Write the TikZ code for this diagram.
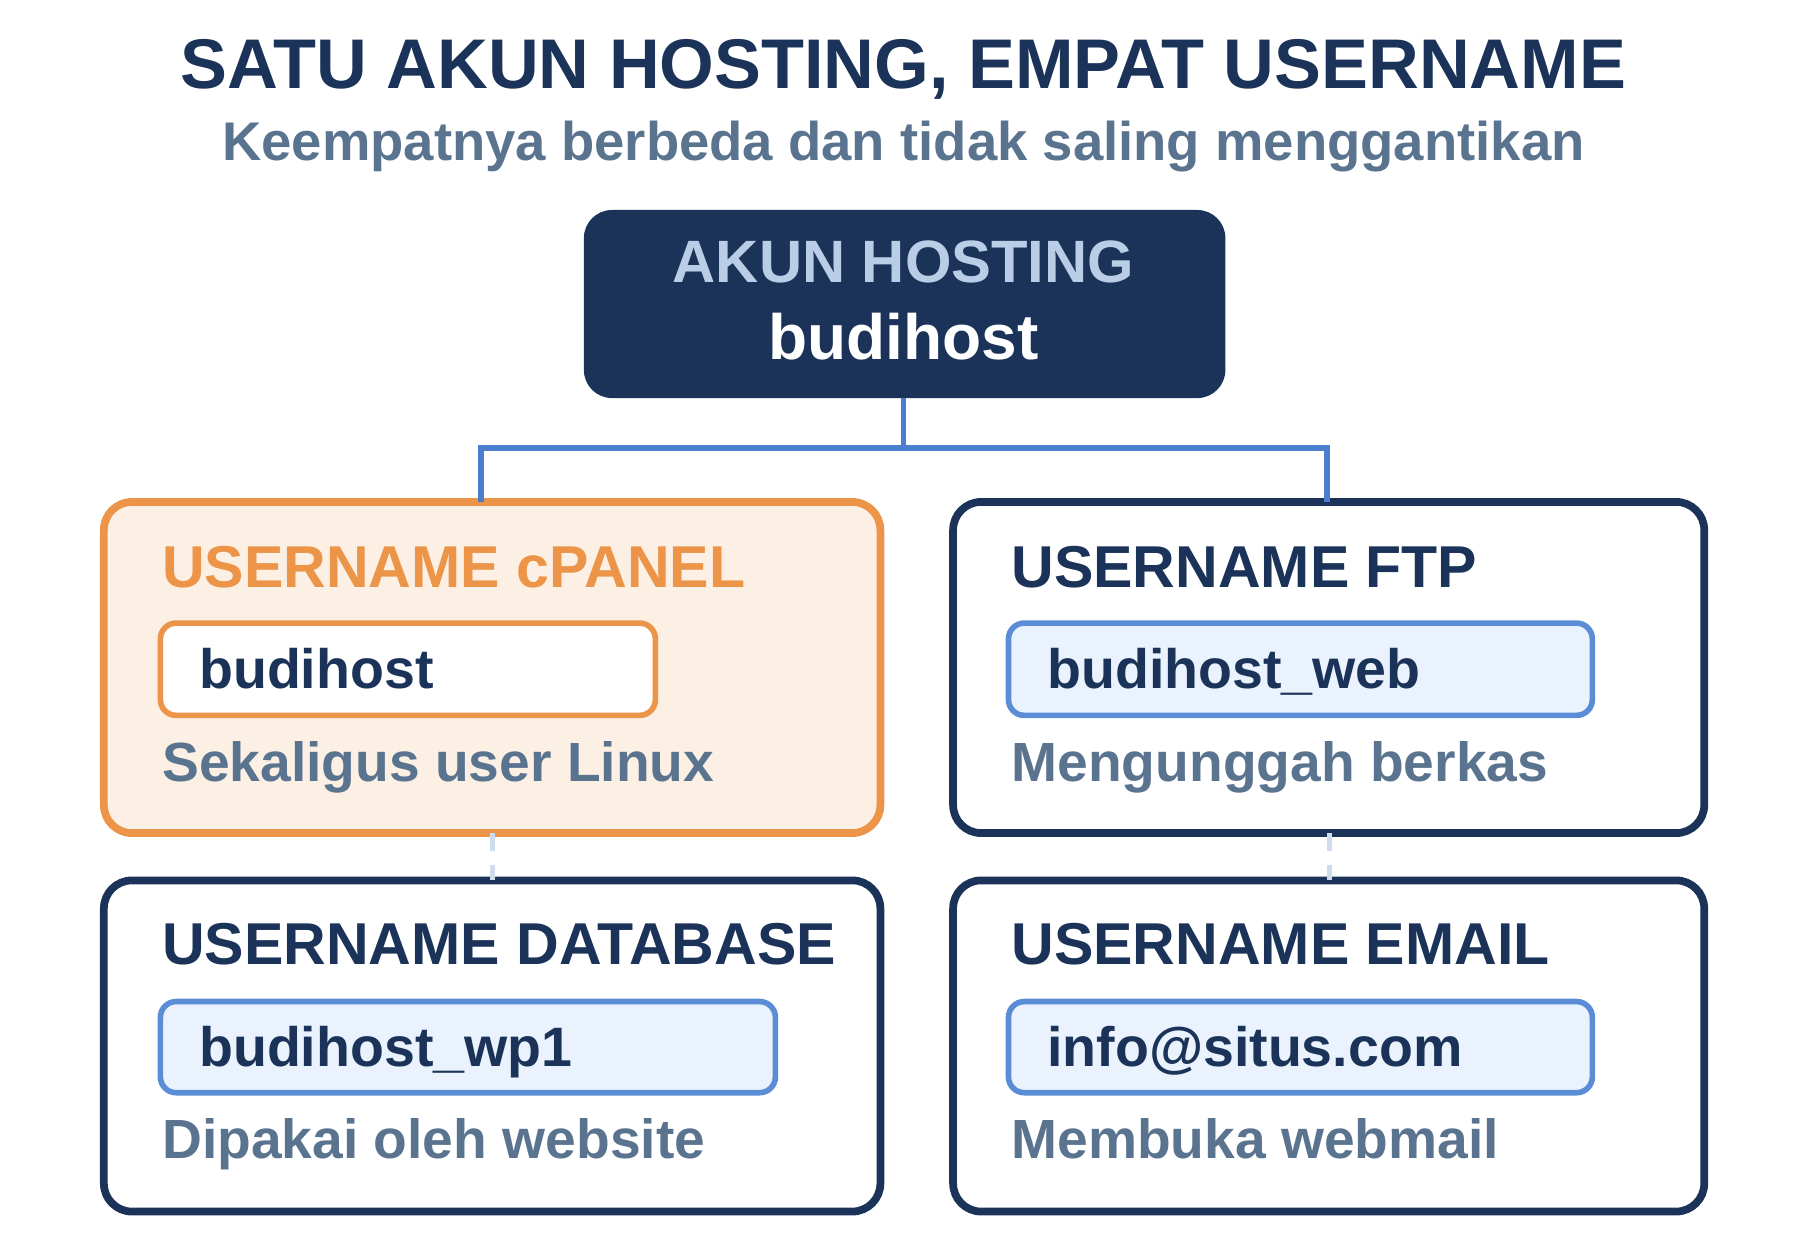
\documentclass[tikz,border=0pt]{standalone}
\usepackage{fontspec}
\setmainfont{Liberation Sans}
\usetikzlibrary{positioning}
\definecolor{navy}{HTML}{1B3358}
\definecolor{slate}{HTML}{5A7490}
\definecolor{skyline}{HTML}{4A7FD0}
\definecolor{paleblue}{HTML}{B9CDE6}
\definecolor{orng}{HTML}{EC9447}
\definecolor{orngfill}{HTML}{FCEFE4}
\definecolor{boxblue}{HTML}{5B8DD6}
\definecolor{boxfill}{HTML}{EAF3FD}
\begin{document}
\begin{tikzpicture}[x=0.011538cm, y=-0.011538cm]
        % ================= styles =================
        \tikzset{
            % outer card
            card/.style={draw=navy, line width=2.2pt, fill=white, rounded corners=8pt},
            % inner value field
            field/.style={draw=boxblue, line width=1.6pt, fill=boxfill, rounded corners=4.5pt},
            % card heading
            head/.style={anchor=base west, inner sep=0pt, text=navy, font=\fontsize{16.8}{20}\selectfont\bfseries},
            % value inside field
            val/.style={anchor=base west, inner sep=0pt, text=navy, font=\fontsize{15.8}{20}\selectfont\bfseries},
            % short description
            desc/.style={anchor=base west, inner sep=0pt, text=slate, font=\fontsize{15.7}{20}\selectfont\bfseries},
            % tree connector
            link/.style={draw=skyline, line width=1.6pt},
            % faint dashed link between rows
            faint/.style={draw=paleblue!70, line width=1.4pt, dash pattern=on 5pt off 4pt}
        }
        \useasboundingbox (0,0) rectangle (1560,1092);

        % ================= title =================
        \node[text=navy, font=\fontsize{20}{24}\selectfont\bfseries] (title) at (783,60) {SATU AKUN HOSTING, EMPAT USERNAME};
        \node[text=slate, font=\fontsize{15.5}{18}\selectfont\bfseries] (sub) at (783,127) {Keempatnya berbeda dan tidak saling menggantikan};

        % ================= root =================
        \fill[navy, rounded corners=8pt] (506,182) rectangle (1062,345);
        \coordinate (root) at (783,345);
        \node[text=paleblue, font=\fontsize{17}{20}\selectfont\bfseries] (roothead) at (783,227) {AKUN HOSTING};
        \node[text=white, font=\fontsize{18.2}{22}\selectfont\bfseries] (rootname) at (783,292) {budihost};

        % ================= cards =================
        \draw[card, draw=orng, fill=orngfill] (90,435) rectangle (763,722);
        \draw[card] (826,435) rectangle (1477,722);
        \draw[card] (90,763) rectangle (763,1050);
        \draw[card] (826,763) rectangle (1477,1050);

        % ================= fields =================
        \draw[field, draw=orng, fill=white] (139,540) rectangle (568,620);
        \draw[field] (874,540) rectangle (1380,620);
        \draw[field] (139,868) rectangle (672,947);
        \draw[field] (874,868) rectangle (1380,947);

        % ================= texts =================
        \node[head, text=orng] (cpanel) at (140,509) {USERNAME cPANEL};
        \node[val] (cpanelv) at (172,597) {budihost};
        \node[desc] (cpaneld) at (140,677) {Sekaligus user Linux};

        \node[head] (ftp) at (876,509) {USERNAME FTP};
        \node[val] (ftpv) at (907,597) {budihost\_web};
        \node[desc] (ftpd) at (876,677) {Mengunggah berkas};

        \node[head] (db) at (140,836) {USERNAME DATABASE};
        \node[val] (dbv) at (172,924) {budihost\_wp1};
        \node[desc] (dbd) at (140,1004) {Dipakai oleh website};

        \node[head] (mail) at (876,836) {USERNAME EMAIL};
        \node[val] (mailv) at (907,924) {info@situs.com};
        \node[desc] (maild) at (876,1004) {Membuka webmail};

        % ================= connectors =================
        \coordinate (lefttop) at (417,435);
        \coordinate (righttop) at (1150,435);
        \draw[link] (root) -- (783,388) -| (lefttop);
        \draw[link] (783,388) -| (righttop);
        \coordinate (la) at (427,722); \coordinate (lb) at (427,763);
        \coordinate (ra) at (1152,722); \coordinate (rb) at (1152,763);
        \draw[faint] (la) -- (lb);
        \draw[faint] (ra) -- (rb);
\end{tikzpicture}
\end{document}
